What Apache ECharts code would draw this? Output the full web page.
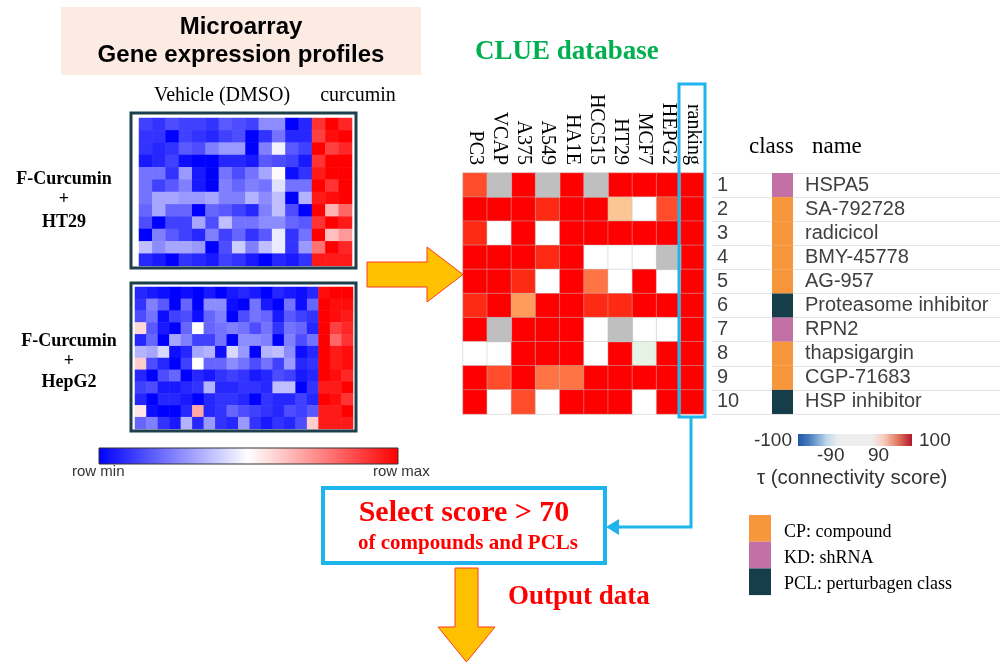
<!DOCTYPE html>
<html>
<head>
<meta charset="utf-8">
<title>CLUE connectivity workflow</title>
<script src="https://cdn.jsdelivr.net/npm/echarts@6/dist/echarts.min.js"></script>
<style>
  html, body { margin: 0; padding: 0; background: #ffffff; }
  #chart { width: 1001px; height: 666px; }
</style>
</head>
<body>
<div id="chart"></div>
<script>
// ---- Microarray expression (row-scaled, -1 = row min, 1 = row max) ----
// F-Curcumin + HT29: 13 vehicle (DMSO) columns, then 3 curcumin columns
const ht29Rows = [
  [-0.75,-0.8,-0.7,-0.75,-0.75,-0.8,-0.65,-0.7,-0.75,-0.45,-0.45,-1,-0.85, 0.8,1,0.85],
  [-0.8,-0.8,-1,-0.75,-0.8,-0.85,-0.75,-0.7,-1,-0.8,-0.55,-0.85,-0.85, 0.75,0.95,1],
  [-0.8,-0.85,-0.8,-0.65,-0.7,-0.5,-0.4,-0.4,-1,-0.5,-0.05,-0.65,-0.75, 1,0.75,0.85],
  [-0.9,-0.85,-0.75,-0.95,-1,-1,-0.85,-0.85,-0.9,-0.65,-0.7,-0.75,-0.9, 0.8,1,1],
  [-0.55,-0.55,-0.8,-0.4,-0.9,-1,-0.55,-0.7,-0.55,-0.35,0.02,-0.95,-0.8, 0.9,1,1],
  [-0.55,-0.75,-0.65,-0.5,-0.9,-1,-0.5,-0.6,-0.5,-0.55,-0.12,-0.55,-0.55, 1,0.8,1],
  [-0.55,-0.35,-0.35,-0.4,-0.4,-0.35,-0.5,-0.5,-0.3,-0.45,-0.25,-1,-0.3, 0.9,0.95,1],
  [-0.6,-0.35,-0.6,-0.6,-1,-0.6,-0.65,-0.75,-0.85,-0.5,-0.25,-0.7,-1, 1,0.3,0.6],
  [-0.7,-1,-0.75,-0.75,-0.35,-0.7,-0.25,-0.55,-0.55,-0.45,-0.45,-0.6,-0.65, 0.8,1,0.9],
  [-1,-0.5,-0.65,-0.75,-0.85,-0.5,-0.75,-0.6,-0.8,-0.65,-0.08,-0.8,-0.55, 1,0.25,0.4],
  [-0.25,-0.45,-0.35,-0.35,-0.4,-1,-0.7,-0.2,-0.5,-0.25,-0.08,-0.8,-0.4, 0.55,1,0.85],
  [-0.85,-0.9,-1,-0.8,-0.85,-0.9,-0.75,-0.8,-0.9,-1,-0.85,-0.9,-0.8, 0.9,0.9,0.9]
];

// F-Curcumin + HepG2: 16 vehicle (DMSO) columns, then 3 curcumin columns
const hepg2Rows = [
  [-0.85,-0.9,-0.95,-1,-0.95,-1,-0.9,-1,-0.9,-0.85,-0.9,-1,-0.85,-0.9,-0.95,-0.85, 0.95,1,1],
  [-0.8,-0.5,-0.65,-1,-0.6,-1,-0.45,-0.45,-0.95,-1,-0.55,-0.9,-1,-0.55,-0.95,-0.6, 1,0.95,0.95],
  [-0.7,-0.55,-0.95,-0.75,-0.7,-0.95,-0.6,-0.5,-1,-0.7,-0.55,-0.6,-0.9,-0.65,-0.75,-0.8, 1,0.95,0.9],
  [0.15,-0.65,-0.9,-1,-0.6,0,-0.6,-0.55,-0.5,-0.55,-0.7,-0.55,-0.8,-0.55,-0.6,-0.85, 1,0.75,0.85],
  [-0.85,-0.6,-1,-0.35,-0.5,-0.75,-0.75,-0.55,-1,-0.45,-0.45,-0.5,-1,-0.5,-0.7,-0.55, 1,0.6,0.8],
  [-0.3,-0.35,-0.15,-0.95,-0.85,-0.35,-0.3,-0.95,-0.15,-0.4,-1,-0.3,-0.25,-0.45,-0.95,-0.85, 1,0.9,0.95],
  [0.2,-0.7,-0.85,-1,-0.75,0,-0.6,-0.6,-0.45,-0.55,-0.7,-0.55,-0.75,-0.4,-0.85,-0.8, 1,0.9,0.95],
  [-0.85,-1,-0.7,-0.6,-1,-0.85,-0.9,-0.8,-0.75,-0.8,-0.9,-0.85,-0.7,-0.75,-0.9,-0.85, 1,0.95,0.85],
  [-0.75,-0.7,-0.9,-0.9,-0.85,-0.8,-0.3,-0.85,-0.85,-0.8,-0.8,-0.85,-0.25,-0.25,-1,-0.8, 0.9,0.9,1],
  [-0.85,-1,-0.85,-0.85,-0.9,-1,-0.85,-0.8,-0.8,-0.85,-1,-0.8,-0.85,-0.85,-0.75,-0.85, 1,0.95,0.8],
  [0.1,-0.95,-1,-1,-0.85,0.35,-0.85,-0.8,-0.6,-0.7,-0.75,-0.8,-0.85,-0.7,-0.75,-0.65, 0.9,0.9,1],
  [-0.6,-0.5,-0.8,-0.9,-0.3,-0.85,-0.4,-0.8,-0.85,-0.4,-0.8,-0.9,-0.8,-0.85,-0.7,0.2, 0.9,0.9,0.9]
];

// ---- CLUE query result: connectivity score tau per cell line (null = not profiled) ----
const cellLines = ['PC3', 'VCAP', 'A375', 'A549', 'HA1E', 'HCC515', 'HT29', 'MCF7', 'HEPG2', 'ranking'];
const ranks = ['1', '2', '3', '4', '5', '6', '7', '8', '9', '10'];
const tauScores = [
  [96,   null, 99.5, null, 99.5, null, 99.5, 99,   99,   99.9],
  [99.5, 99.5, 99,   98,   99.5, 99,   90.5, 20,   96,   99.9],
  [98,   30,   99,   25,   99.5, 99.5, 99,   99.5, 99,   99.9],
  [99.5, 99,   99,   97.5, 99.5, 35,   40,   30,   null, 99.9],
  [99.5, 99,   98.5, 30,   99.5, 94,   25,   99.5, 35,   99.9],
  [97.5, 99.5, 92,   99,   99.5, 98,   98.5, 99,   99.5, 99.9],
  [99.5, null, 99,   99,   99.5, 30,   null, 40,   35,   99.9],
  [20,   25,   99.5, 99.5, 99.5, 30,   99,   -30,  99.5, 99.9],
  [99.5, 96,   99,   94,   94,   99.5, 99,   99.5, 99,   99.9],
  [99.5, 30,   96,   35,   99.5, 99.5, 99,   25,   99.5, 99.9]
];
const perturbagenNames = ['HSPA5', 'SA-792728', 'radicicol', 'BMY-45778', 'AG-957',
  'Proteasome inhibitor', 'RPN2', 'thapsigargin', 'CGP-71683', 'HSP inhibitor'];
const perturbagenClass = ['KD', 'CP', 'CP', 'CP', 'CP', 'PCL', 'KD', 'CP', 'CP', 'PCL'];
const classLegend = [
  { code: 'CP', label: 'CP: compound', color: '#f7963a' },
  { code: 'KD', label: 'KD: shRNA', color: '#c370a6' },
  { code: 'PCL', label: 'PCL: perturbagen class', color: '#163e4a' }
];

// ---- derived series data ----
function toCells(rows) {
  const out = [];
  rows.forEach((r, y) => r.forEach((v, x) => out.push([x, y, v])));
  return out;
}
const ht29Cells = toCells(ht29Rows);
const hepg2Cells = toCells(hepg2Rows);
const clueCells = [], clueMissing = [];
tauScores.forEach((r, y) => r.forEach((v, x) => {
  if (v === null) clueMissing.push([x, y, 0]); else clueCells.push([x, y, v]);
}));
const classColor = {};
classLegend.forEach(c => { classColor[c.code] = c.color; });
const classBars = perturbagenClass.map(c => ({ value: 1, itemStyle: { color: classColor[c] } }));
const seq = n => Array.from({ length: n }, (_, i) => String(i));

const SANS = "'Liberation Sans', Arial, sans-serif";
const SERIF = "'Liberation Serif', 'Times New Roman', serif";
const RED = '#ff0000';
const BLUE = '#1eb4ec';

function txt(text, x, y, font, fill, align) {
  return { type: 'text', z: 20, silent: true,
    style: { text, x, y, font, fill: fill || '#000', align: align || 'left', verticalAlign: 'middle' } };
}

const hidden = { show: false };

const option = {
  backgroundColor: '#ffffff',
  animation: false,
  grid: [
    { left: 139, top: 118, width: 213, height: 148 },   // HT29 expression
    { left: 135, top: 287, width: 218, height: 142 },   // HepG2 expression
    { left: 463, top: 173, width: 242, height: 241 },   // CLUE scores
    { left: 712, top: 173, width: 288, height: 241 },   // rank table rows
    { left: 772, top: 173, width: 21, height: 241 }     // class strip + names
  ],
  xAxis: [
    { gridIndex: 0, type: 'category', data: seq(16), show: false },
    { gridIndex: 1, type: 'category', data: seq(19), show: false },
    { gridIndex: 2, type: 'category', data: cellLines, position: 'top',
      axisLine: hidden, axisTick: hidden,
      axisLabel: { interval: 0, rotate: 90, margin: 8, fontFamily: SERIF, fontSize: 20, color: '#000' } },
    { gridIndex: 3, type: 'value', min: 0, max: 1, show: false },
    { gridIndex: 4, type: 'value', min: 0, max: 1, show: false }
  ],
  yAxis: [
    { gridIndex: 0, type: 'category', data: seq(12), inverse: true, show: false },
    { gridIndex: 1, type: 'category', data: seq(12), inverse: true, show: false },
    { gridIndex: 2, type: 'category', data: ranks, inverse: true, show: false },
    { gridIndex: 3, type: 'category', data: ranks, inverse: true,
      axisLine: hidden, axisTick: hidden,
      axisLabel: { interval: 0, inside: true, margin: 5, fontFamily: SANS, fontSize: 20, color: '#404040' },
      splitLine: { show: true, interval: 0, lineStyle: { color: '#e4e4e4', width: 1 } } },
    { gridIndex: 4, type: 'category', data: perturbagenNames, inverse: true, position: 'right',
      axisLine: hidden, axisTick: hidden,
      axisLabel: { interval: 0, margin: 12, fontFamily: SANS, fontSize: 20, color: '#404040' } }
  ],
  visualMap: [
    { type: 'continuous', show: false, seriesIndex: [0, 1], min: -1, max: 1, dimension: 2,
      inRange: { color: ['#0000ff', '#ffffff', '#ff0000'] } },
    { type: 'piecewise', show: false, seriesIndex: [2], dimension: 2,
      pieces: [
        { gte: 99, color: '#ff0000' },
        { gte: 97, lt: 99, color: '#ff2a14' },
        { gte: 95, lt: 97, color: '#ff4d2b' },
        { gte: 93, lt: 95, color: '#ff7444' },
        { gte: 91, lt: 93, color: '#ff9c5c' },
        { gte: 90, lt: 91, color: '#fcc694' },
        { gte: -10, lt: 90, color: '#ffffff' },
        { lt: -10, color: '#e6f2e4' }
      ] }
  ],
  series: [
    { type: 'heatmap', xAxisIndex: 0, yAxisIndex: 0, data: ht29Cells, silent: true,
      emphasis: { disabled: true } },
    { type: 'heatmap', xAxisIndex: 1, yAxisIndex: 1, data: hepg2Cells, silent: true,
      emphasis: { disabled: true } },
    { type: 'heatmap', xAxisIndex: 2, yAxisIndex: 2, data: clueCells, silent: true,
      itemStyle: { borderColor: 'rgba(190,190,190,0.45)', borderWidth: 1 },
      emphasis: { disabled: true } },
    { type: 'heatmap', xAxisIndex: 2, yAxisIndex: 2, data: clueMissing, silent: true,
      itemStyle: { color: '#bfbfbf', borderColor: 'rgba(190,190,190,0.45)', borderWidth: 1 },
      emphasis: { disabled: true } },
    { type: 'bar', xAxisIndex: 4, yAxisIndex: 4, data: classBars, silent: true,
      barCategoryGap: '0%', emphasis: { disabled: true } }
  ],
  graphic: {
    elements: [
      // header panel
      { type: 'rect', z: 5, silent: true, shape: { x: 61, y: 7, width: 360, height: 68 },
        style: { fill: '#fbebe3' } },
      txt('Microarray', 241, 27, 'bold 24px ' + SANS, '#000', 'center'),
      txt('Gene expression profiles', 241, 55, 'bold 24px ' + SANS, '#000', 'center'),
      txt('Vehicle (DMSO)', 222, 96, '20px ' + SERIF, '#000', 'center'),
      txt('curcumin', 358, 96, '20px ' + SERIF, '#000', 'center'),

      // sample labels
      txt('F-Curcumin', 64, 179, 'bold 18px ' + SERIF, '#000', 'center'),
      txt('+', 64, 199, 'bold 18px ' + SERIF, '#000', 'center'),
      txt('HT29', 64, 222, 'bold 18px ' + SERIF, '#000', 'center'),
      txt('F-Curcumin', 69, 341, 'bold 18px ' + SERIF, '#000', 'center'),
      txt('+', 69, 361, 'bold 18px ' + SERIF, '#000', 'center'),
      txt('HepG2', 69, 382, 'bold 18px ' + SERIF, '#000', 'center'),

      // heatmap frames
      { type: 'rect', z: 10, silent: true, shape: { x: 131, y: 113, width: 225, height: 155 },
        style: { fill: 'none', stroke: '#1d3f4b', lineWidth: 3 } },
      { type: 'rect', z: 10, silent: true, shape: { x: 131, y: 283, width: 225, height: 148 },
        style: { fill: 'none', stroke: '#1d3f4b', lineWidth: 3 } },

      // expression colour scale
      { type: 'rect', z: 10, silent: true, shape: { x: 99, y: 448, width: 299, height: 16 },
        style: { stroke: '#333', lineWidth: 1,
          fill: new echarts.graphic.LinearGradient(0, 0, 1, 0, [
            { offset: 0, color: '#0000ff' }, { offset: 0.5, color: '#ffffff' }, { offset: 1, color: '#ff0000' }]) } },
      txt('row min', 72, 472, '15px ' + SANS, '#333'),
      txt('row max', 373, 472, '15px ' + SANS, '#333'),

      // right-pointing transfer arrow
      { type: 'polygon', z: 10, silent: true,
        shape: { points: [[367, 262], [427, 262], [427, 247], [463, 274.5], [427, 302], [427, 287], [367, 287]] },
        style: { fill: '#ffc000', stroke: '#ff3b1f', lineWidth: 1 } },

      // CLUE title
      txt('CLUE database', 475, 52, 'bold 27px ' + SERIF, '#00b050'),

      // ranking highlight and connector
      { type: 'rect', z: 15, silent: true, shape: { x: 679, y: 84, width: 26, height: 333 },
        style: { fill: 'none', stroke: BLUE, lineWidth: 3 } },
      { type: 'polyline', z: 15, silent: true,
        shape: { points: [[691, 417], [691, 527], [617, 527]] },
        style: { fill: 'none', stroke: BLUE, lineWidth: 3 } },
      { type: 'polygon', z: 15, silent: true,
        shape: { points: [[606, 527], [619, 519], [619, 535]] },
        style: { fill: BLUE } },

      // selection box
      { type: 'rect', z: 10, silent: true, shape: { x: 323, y: 488, width: 282, height: 75 },
        style: { fill: '#fff', stroke: BLUE, lineWidth: 4 } },
      txt('Select score > 70', 464, 513, 'bold 30px ' + SERIF, RED, 'center'),
      txt('of compounds and PCLs', 468, 544, 'bold 21px ' + SERIF, RED, 'center'),

      // output arrow
      { type: 'polygon', z: 10, silent: true,
        shape: { points: [[455, 568], [478, 568], [478, 627], [495, 627], [466.5, 662], [438, 627], [455, 627]] },
        style: { fill: '#ffc000', stroke: '#ff3b1f', lineWidth: 1 } },
      txt('Output data', 508, 597, 'bold 27px ' + SERIF, RED),

      // table headers
      txt('class', 749, 147, '23px ' + SERIF, '#000'),
      txt('name', 812, 147, '23px ' + SERIF, '#000'),

      // connectivity score scale
      { type: 'rect', z: 10, silent: true, shape: { x: 798, y: 434, width: 114, height: 12 },
        style: { fill: new echarts.graphic.LinearGradient(0, 0, 1, 0, [
          { offset: 0, color: '#2453a3' }, { offset: 0.1, color: '#4a7fc0' },
          { offset: 0.25, color: '#bcd6ea' }, { offset: 0.35, color: '#eceef0' },
          { offset: 0.65, color: '#eeeeee' }, { offset: 0.75, color: '#f6cdbd' },
          { offset: 0.88, color: '#e0765c' }, { offset: 1, color: '#b2182b' }]) } },
      txt('-100', 792, 441, '19px ' + SANS, '#333', 'right'),
      txt('100', 919, 441, '19px ' + SANS, '#333'),
      txt('-90', 817, 456, '19px ' + SANS, '#333'),
      txt('90', 868, 456, '19px ' + SANS, '#333'),
      txt('\u03c4 (connectivity score)', 757, 478, '20.5px ' + SANS, '#333'),

      // class legend
      ...classLegend.map((c, i) => ({ type: 'rect', z: 10, silent: true,
        shape: { x: 749, y: 515 + i * 26.7, width: 22, height: 26.7 }, style: { fill: c.color } })),
      ...classLegend.map((c, i) => txt(c.label, 784, 532 + i * 26, '18px ' + SERIF, '#000'))
    ]
  }
};

const chart = echarts.init(document.getElementById('chart'), null, { renderer: 'canvas' });
chart.setOption(option);
</script>
</body>
</html>
